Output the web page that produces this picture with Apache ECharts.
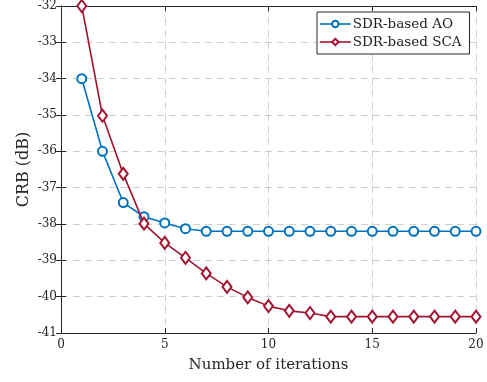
<!DOCTYPE html>
<html>
<head>
<meta charset="utf-8">
<script src="https://cdn.jsdelivr.net/npm/echarts@6/dist/echarts.min.js"></script>
<style>
  html, body { margin: 0; padding: 0; background: #fff; }
  #chart { width: 487px; height: 382px; }
</style>
</head>
<body>
<div id="chart"></div>
<script>
// Iteration index and CRB (dB) for the two schemes
const iterations = [1, 2, 3, 4, 5, 6, 7, 8, 9, 10, 11, 12, 13, 14, 15, 16, 17, 18, 19, 20];
const crbAO = [-34.0, -36.0, -37.41, -37.8, -37.97, -38.13, -38.2, -38.2, -38.2, -38.2,
               -38.2, -38.2, -38.2, -38.2, -38.2, -38.2, -38.2, -38.2, -38.2, -38.2];
const crbSCA = [-32.0, -35.02, -36.62, -37.99, -38.52, -38.93, -39.36, -39.73, -40.02, -40.26,
                -40.39, -40.45, -40.55, -40.55, -40.55, -40.55, -40.55, -40.55, -40.55, -40.55];
const xTicks = [0, 5, 10, 15, 20];
const yTicks = [-41, -40, -39, -38, -37, -36, -35, -34, -33, -32];

const FONT = 'DejaVu Serif';
const pair = (xs, ys) => xs.map((x, i) => [x, ys[i]]);

const chart = echarts.init(document.getElementById('chart'), null, { renderer: 'canvas' });

const gridLine = { show: true, lineStyle: { color: '#d0d0d0', type: [7, 5], width: 1 } };
const tickStyle = { show: true, inside: true, length: 5, lineStyle: { color: '#262626', width: 1 } };
const axisLine = { show: true, lineStyle: { color: '#262626', width: 1 } };

chart.setOption({
  backgroundColor: '#ffffff',
  animation: false,
  grid: { left: 61, top: 5.5, width: 415, height: 327.5, containLabel: false },
  legend: {
    left: 317, top: 12,
    orient: 'vertical',
    backgroundColor: '#ffffff',
    borderColor: '#262626', borderWidth: 1, borderRadius: 0,
    padding: [5, 8, 5, 2],
    itemGap: 4, itemWidth: 31, itemHeight: 8,
    itemStyle: { borderWidth: 1.4 },
    lineStyle: { width: 1.6 },
    textStyle: { fontFamily: FONT, fontSize: 13.5, color: '#222', padding: [0, 0, 0, -3] },
    data: ['SDR-based AO', 'SDR-based SCA']
  },
  xAxis: [{
    type: 'value', min: 0, max: 20, interval: 5,
    name: 'Number of iterations', nameLocation: 'middle', nameGap: 25,
    nameMoveOverlap: false,
    nameTextStyle: { fontFamily: FONT, fontSize: 15, color: '#262626' },
    axisLine, axisTick: tickStyle, splitLine: gridLine,
    axisLabel: { fontFamily: FONT, fontSize: 12, color: '#262626', margin: 6,
                 formatter: v => xTicks.includes(v) ? String(v) : '' }
  }, {
    type: 'value', position: 'top', min: 0, max: 20, interval: 5,
    axisLine, axisTick: tickStyle, axisLabel: { show: false }, splitLine: { show: false }
  }],
  yAxis: [{
    type: 'value', min: -41, max: -32, interval: 1,
    name: 'CRB (dB)', nameLocation: 'middle', nameGap: 29,
    nameMoveOverlap: false,
    nameTextStyle: { fontFamily: FONT, fontSize: 16, color: '#262626' },
    axisLine, axisTick: tickStyle, splitLine: gridLine,
    axisLabel: { fontFamily: FONT, fontSize: 12, color: '#262626', margin: 4,
                 formatter: v => yTicks.includes(v) ? String(v) : '' }
  }, {
    type: 'value', position: 'right', min: -41, max: -32, interval: 1,
    axisLine, axisTick: tickStyle, axisLabel: { show: false }, splitLine: { show: false }
  }],
  series: [{
    name: 'SDR-based AO', type: 'line',
    data: pair(iterations, crbAO),
    symbol: 'emptyCircle', symbolSize: 9,
    itemStyle: { color: '#0072BD', borderWidth: 1.6 },
    lineStyle: { color: '#0072BD', width: 1.6 },
    z: 3
  }, {
    name: 'SDR-based SCA', type: 'line',
    data: pair(iterations, crbSCA),
    symbol: 'emptyDiamond', symbolSize: [9, 12],
    itemStyle: { color: '#A2142F', borderWidth: 1.6 },
    lineStyle: { color: '#A2142F', width: 1.6 },
    z: 4
  }]
});
</script>
</body>
</html>
